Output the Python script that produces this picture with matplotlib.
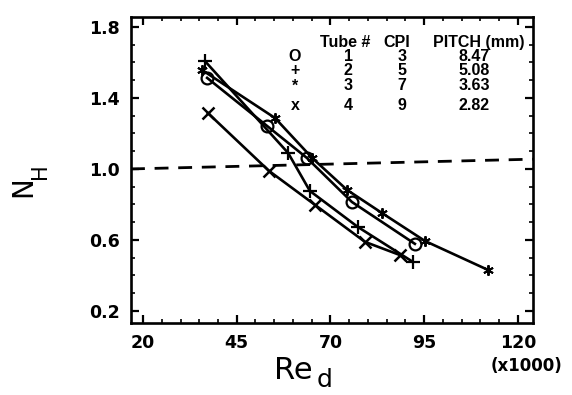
import matplotlib
matplotlib.use("Agg")
import matplotlib.pyplot as plt
from matplotlib.ticker import MultipleLocator, FixedLocator

# Reynolds number (x1000) and normalized heat transfer N_H for each tube
re_tube1 = [37.1, 53.1, 63.7, 75.7, 92.5]
nh_tube1 = [1.513, 1.242, 1.062, 0.814, 0.578]

re_tube2 = [36.5, 58.7, 64.5, 77.3, 92.0]
nh_tube2 = [1.608, 1.090, 0.876, 0.673, 0.476]

re_tube3 = [35.7, 55.2, 65.1, 74.4, 83.7, 95.2, 112.0]
nh_tube3 = [1.558, 1.287, 1.062, 0.882, 0.752, 0.594, 0.431]

re_tube4 = [37.3, 53.6, 65.9, 79.2, 88.5]
nh_tube4 = [1.315, 0.989, 0.797, 0.589, 0.515]

# reference line near N_H = 1
ref_re = [16.8, 124.0]
ref_nh = [1.0, 1.055]

# table of tube geometry
tube_symbols = ["O", "+", "*", "x"]
tube_ids = ["1", "2", "3", "4"]
tube_cpi = ["3", "5", "7", "9"]
tube_pitch = ["8.47", "5.08", "3.63", "2.82"]

x_ticks = [20, 45, 70, 95, 120]
y_ticks = [0.2, 0.6, 1.0, 1.4, 1.8]

W, H = 572, 395
fig = plt.figure(figsize=(W / 100, H / 100), dpi=100)
ax = fig.add_axes([131 / W, 1 - 323 / H, 402 / W, 306 / H])

lw = 1.9
ax.plot(re_tube1, nh_tube1, color="black", lw=lw, marker="o", ms=8.5,
        mfc="none", mec="black", mew=1.6)
ax.plot(re_tube2, nh_tube2, color="black", lw=lw, marker="+", ms=10, mew=1.6)
ax.plot(re_tube3, nh_tube3, color="black", lw=lw, marker=(6, 2, 0), ms=7.5, mew=1.4)
ax.plot(re_tube4, nh_tube4, color="black", lw=lw, marker="x", ms=8.5, mew=1.8)

ax.plot(ref_re, ref_nh, color="black", lw=2.0, ls="--", dashes=(5, 3.5))

ax.set_xlim(16.8, 124.0)
ax.set_ylim(0.132, 1.856)

ax.xaxis.set_major_locator(FixedLocator(x_ticks))
ax.xaxis.set_minor_locator(MultipleLocator(5))
ax.yaxis.set_major_locator(FixedLocator(y_ticks))
ax.yaxis.set_minor_locator(MultipleLocator(0.1))
ax.set_xticklabels([str(v) for v in x_ticks])
ax.set_yticklabels([f"{v:.1f}" for v in y_ticks])

ax.tick_params(which="both", direction="in", top=True, right=True,
               color="black")
ax.tick_params(which="major", length=6, width=1.6, pad=8)
ax.tick_params(which="minor", length=3, width=1.2)
for lab in ax.get_xticklabels() + ax.get_yticklabels():
    lab.set_fontfamily("DejaVu Sans")
    lab.set_fontweight("bold")
    lab.set_fontsize(12.5)

for sp in ax.spines.values():
    sp.set_linewidth(1.9)

# geometry table inside the plot
tfont = dict(family="Liberation Sans", weight="bold", fontsize=11.5,
             color="black", va="center")
ax.text(73.9, 1.715, "Tube #", ha="center", **tfont)
ax.text(87.7, 1.715, "CPI", ha="center", **tfont)
ax.text(109.6, 1.715, "PITCH (mm)", ha="center", **tfont)
row_y = [1.631, 1.552, 1.468, 1.355]
for sym, tid, cpi, pitch, yy in zip(tube_symbols, tube_ids, tube_cpi,
                                    tube_pitch, row_y):
    ax.text(60.5, yy, sym, ha="center", **tfont)
    ax.text(74.7, yy, tid, ha="center", **tfont)
    ax.text(89.1, yy, cpi, ha="center", **tfont)
    ax.text(112.5, yy, pitch, ha="right", **tfont)

# axis titles
fig.text(274 / W, 1 - 379 / H, "Re", fontsize=22, family="DejaVu Sans",
         ha="left", va="baseline")
fig.text(317 / W, 1 - 387 / H, "d", fontsize=18, family="DejaVu Sans",
         ha="left", va="baseline")
fig.text(23 / W, 1 - 187 / H, "N", fontsize=20, family="DejaVu Sans",
         rotation=90, ha="center", va="center")
fig.text(40 / W, 1 - 171 / H, "H", fontsize=15, family="DejaVu Sans",
         rotation=90, ha="center", va="center")
fig.text(527 / W, 1 - 366 / H, "(x1000)", fontsize=12, family="DejaVu Sans",
         weight="bold", ha="center", va="center")

fig.savefig("out.png", dpi=100)
